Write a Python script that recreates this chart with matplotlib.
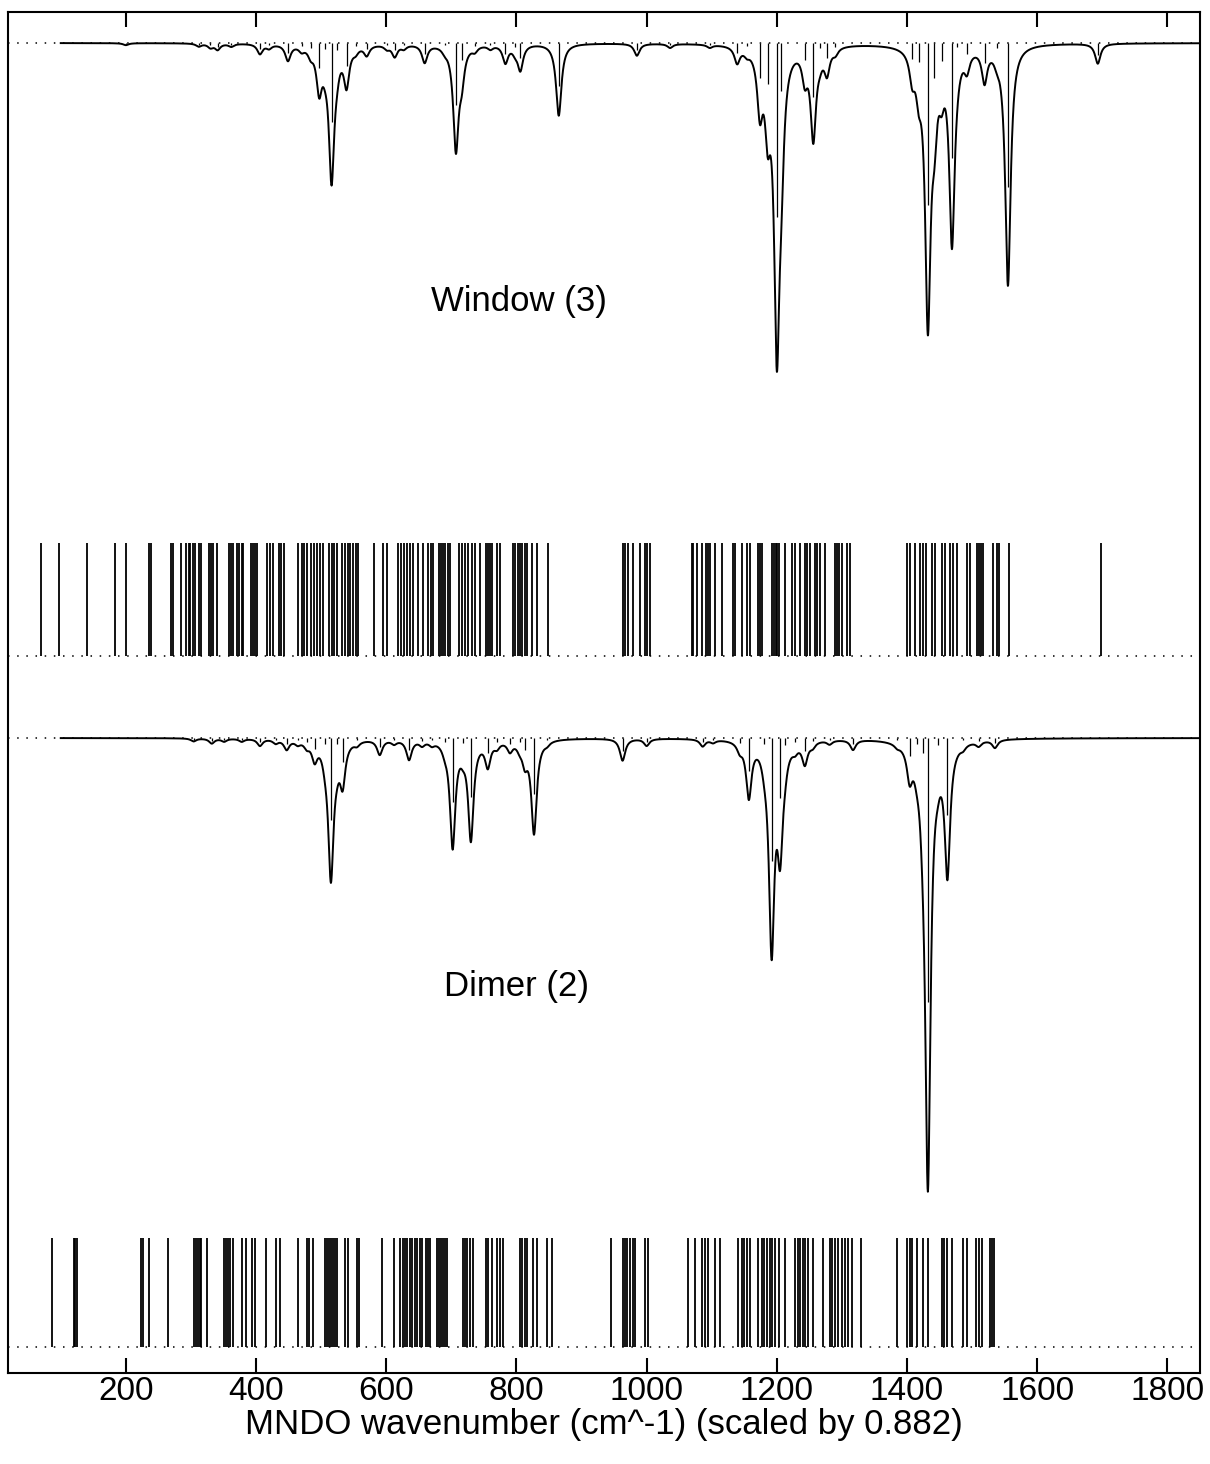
import numpy as np
import matplotlib
matplotlib.use("Agg")
import matplotlib.pyplot as plt

# ---------------- data (cm^-1, scaled by 0.882) ----------------
# all computed frequencies, Window (3)
window_freqs = [69, 97, 140, 184, 200, 235, 238, 269, 272, 284, 292, 297, 299, 303, 306,
                312, 316, 328, 331, 334, 340, 358, 361, 364, 370, 374, 378, 380, 392, 395,
                398, 401, 417, 421, 426, 435, 439, 443, 464, 470, 474, 478, 484, 489, 493,
                498, 503, 512, 516, 520, 524, 532, 536, 541, 544, 549, 553, 556, 581, 595,
                601, 618, 622, 627, 632, 636, 641, 649, 656, 664, 668, 672, 681, 684, 687,
                690, 695, 698, 712, 716, 721, 726, 731, 736, 744, 753, 756, 759, 762, 770,
                774, 794, 798, 802, 805, 809, 813, 816, 824, 831, 848, 963, 967, 971, 979,
                990, 997, 1001, 1005, 1069, 1071, 1077, 1085, 1091, 1094, 1097, 1105, 1115,
                1132, 1135, 1146, 1154, 1158, 1171, 1174, 1177, 1192, 1195, 1198, 1201, 1204,
                1212, 1223, 1228, 1235, 1243, 1247, 1251, 1258, 1262, 1266, 1274, 1289, 1293,
                1296, 1300, 1307, 1312, 1400, 1404, 1412, 1420, 1425, 1429, 1438, 1443, 1453,
                1458, 1466, 1470, 1476, 1492, 1496, 1507, 1510, 1513, 1516, 1532, 1538, 1542,
                1556, 1698]

# IR-active bands, Window (3): position and relative intensity
window_ir_pos = [200, 312, 330, 341, 362, 406, 420, 449, 470, 484, 497, 506, 516, 524, 539,
                 553, 570, 601, 613, 627, 659, 690, 707, 716, 736, 760, 783, 798, 806, 865,
                 985, 1036, 1097, 1139, 1154, 1174, 1186, 1200, 1207, 1243, 1256, 1266, 1277,
                 1290, 1408, 1418, 1432, 1442, 1453, 1469, 1476, 1492, 1519, 1538, 1555, 1693]
window_ir_int = [2, 3, 4, 6, 3, 10, 4, 16, 5, 8, 42, 10, 132, 12, 38,
                 5, 10, 4, 12, 4, 18, 4, 103, 28, 5, 4, 18, 6, 25, 72,
                 12, 4, 3, 16, 5, 58, 68, 290, 80, 28, 90, 8, 25,
                 6, 26, 32, 270, 58, 30, 192, 6, 18, 33, 8, 240, 20]

# all computed frequencies, Dimer (2)
dimer_freqs = [87, 120, 122, 125, 223, 226, 235, 265, 304, 308, 311, 314, 316, 324, 351,
               354, 357, 360, 364, 378, 385, 394, 398, 415, 430, 437, 464, 478, 482, 487,
               506, 509, 512, 515, 518, 521, 524, 536, 541, 555, 558, 593, 612, 621, 625,
               629, 632, 636, 640, 644, 648, 652, 655, 661, 664, 667, 678, 681, 684, 687,
               690, 693, 718, 721, 724, 728, 733, 753, 757, 762, 770, 774, 779, 805, 809,
               813, 816, 825, 831, 847, 854, 946, 963, 967, 970, 974, 979, 982, 997, 1002,
               1063, 1074, 1085, 1089, 1094, 1105, 1112, 1140, 1146, 1150, 1154, 1158, 1171,
               1177, 1181, 1185, 1189, 1193, 1197, 1204, 1212, 1228, 1232, 1236, 1240, 1243,
               1248, 1255, 1271, 1281, 1285, 1289, 1294, 1300, 1304, 1309, 1315, 1329, 1384,
               1400, 1404, 1407, 1415, 1424, 1432, 1453, 1457, 1461, 1469, 1486, 1492, 1506,
               1510, 1515, 1527, 1531, 1534]

# IR-active bands, Dimer (2)
dimer_ir_pos = [304, 332, 351, 378, 406, 430, 447, 464, 478, 490, 506, 515, 524, 533, 555,
                590, 612, 635, 655, 670, 690, 702, 718, 730, 756, 770, 790, 805, 813, 827,
                847, 963, 1000, 1086, 1102, 1143, 1157, 1181, 1192, 1205, 1212, 1228, 1243,
                1255, 1281, 1317, 1385, 1404, 1415, 1424, 1432, 1447, 1462, 1486, 1510, 1535]
dimer_ir_int = [3, 5, 3, 3, 7, 4, 10, 4, 6, 18, 10, 136, 10, 40, 4,
                15, 4, 20, 5, 4, 6, 106, 8, 98, 25, 6, 10, 6, 20, 93,
                3, 22, 7, 7, 3, 8, 55, 10, 205, 100, 12, 6, 22,
                5, 4, 10, 3, 30, 10, 25, 440, 12, 128, 4, 5, 8]

xticks = [200, 400, 600, 800, 1000, 1200, 1400, 1600, 1800]
xlabel = "MNDO wavenumber (cm^-1) (scaled by 0.882)"
panel_labels = ["Window (3)", "Dimer (2)"]

# ---------------- layout ----------------
XMIN, XMAX = 19, 1850
YTOP, YBOT = 12, 1373          # vertical frame in pixel-like units
W_BASE = 43                    # Window spectrum baseline
W_STK_TOP, W_STK_BASE = 543, 656
D_BASE = 738                   # Dimer spectrum baseline
D_STK_TOP, D_STK_BASE = 1238, 1347
HWHM = 5.0
STICK_SCALE = 0.6

plt.rcParams['font.family'] = ['Liberation Sans', 'DejaVu Sans']

fig = plt.figure(figsize=(12.10, 14.64), dpi=100)
ax = fig.add_axes([8 / 1210, 1 - YBOT / 1464, (1200 - 8) / 1210, (YBOT - YTOP) / 1464])
ax.set_xlim(XMIN, XMAX)
ax.set_ylim(YBOT, YTOP)

x = np.linspace(100, XMAX, 8001)


def broadened(pos, inten):
    p = np.asarray(pos, float)[:, None]
    a = np.asarray(inten, float)[:, None]
    return (a / (1.0 + ((x[None, :] - p) / HWHM) ** 2)).sum(axis=0)


dot = (0, (1, 5))
for base, pos, inten in [(W_BASE, window_ir_pos, window_ir_int),
                         (D_BASE, dimer_ir_pos, dimer_ir_int)]:
    ax.hlines(base, XMIN, XMAX, colors='k', linestyles=dot, lw=1.1)
    ax.vlines(pos, base, base + STICK_SCALE * np.asarray(inten), colors='k', lw=0.9)
    ax.plot(x, base + broadened(pos, inten), color='k', lw=1.4)

for top, base, freqs in [(W_STK_TOP, W_STK_BASE, window_freqs),
                         (D_STK_TOP, D_STK_BASE, dimer_freqs)]:
    ax.hlines(base, XMIN, XMAX, colors='k', linestyles=dot, lw=1.1)
    ax.vlines(freqs, top, base, colors='k', lw=1.3)

ax.text(804, 302, panel_labels[0], ha='center', va='center', fontsize=25)
ax.text(800, 987, panel_labels[1], ha='center', va='center', fontsize=25)

ax.set_xticks(xticks)
ax.set_xticklabels([str(t) for t in xticks])
ax.tick_params(axis='x', direction='in', length=11, width=1.5, top=True, bottom=True,
               labelsize=24, pad=2)
ax.tick_params(axis='y', left=False, right=False, labelleft=False)
ax.set_xlabel(xlabel, fontsize=25, labelpad=1)
for s in ax.spines.values():
    s.set_linewidth(1.5)

fig.savefig("out.png", dpi=100)
